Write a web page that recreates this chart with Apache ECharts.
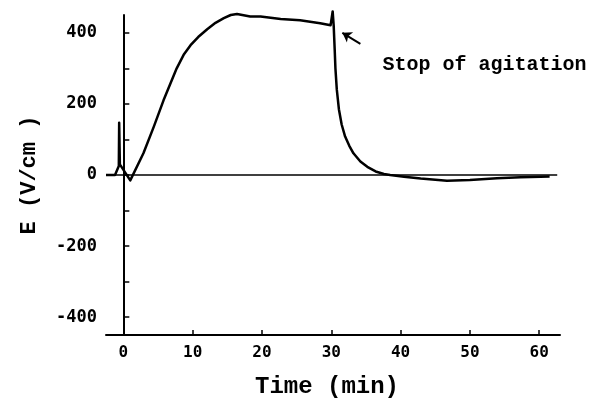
<!DOCTYPE html>
<html>
<head>
<meta charset="utf-8">
<script src="https://cdn.jsdelivr.net/npm/echarts@6/dist/echarts.min.js"></script>
<style>html,body{margin:0;padding:0;background:#fff}#c{width:596px;height:406px}</style>
</head>
<body>
<div id="c"></div>
<script>
// time (min) and field strength E (V/cm)
var timeMin = [-2.5, -1.2, -0.65, -0.6, -0.5, 1.0, 2.9, 4.4, 5.8, 7.7, 8.7, 9.7, 10.8, 12.1, 13.3, 14.5, 15.5, 16.4, 18.3, 19.8, 22.7, 25.5, 28.4, 29.9, 30.2, 30.35, 30.5, 30.6, 30.8, 31.1, 31.5, 32.0, 32.6, 33.2, 34.2, 35.2, 36.4, 37.6, 38.5, 40.5, 42.9, 46.7, 50.0, 53.9, 57.3, 60.2, 61.5];
var fieldE  = [0, 0, 25, 147, 30, -15, 61, 136, 210, 300, 338, 365, 388, 410, 428, 441, 450, 453, 446, 446, 439, 435, 427, 421, 460, 420, 350, 300, 240, 185, 142, 108, 82, 61, 38, 23, 10, 3, 0, -5, -10, -16, -14, -9, -6, -5, -4];
var baseTime = [-2.5, 62.6];
var baseE = [0, 0];
var yTicks = [-400, -300, -200, -100, 0, 100, 200, 300, 400];
var yLabels = [-400, -200, 0, 200, 400];
var xTicks = [0, 10, 20, 30, 40, 50, 60];
var annotationText = 'Stop of agitation';
var annotationAt = [37.4, 310];
var arrowFrom = [34.2, 369];
var arrowTo = [31.6, 400];

var curve = timeMin.map(function (t, i) { return [t, fieldE[i]]; });
var base = baseTime.map(function (t, i) { return [t, baseE[i]]; });

var chart = echarts.init(document.getElementById('c'), null, {renderer: 'canvas'});
chart.setOption({
  backgroundColor: '#fff',
  animation: false,
  grid: {left: 106, right: 36, top: 15, bottom: 71},
  xAxis: {
    type: 'value', min: -2.5, max: 63,
    name: 'Time (min)', nameLocation: 'middle', nameGap: 40,
    nameTextStyle: {fontFamily: 'Liberation Mono', fontWeight: 'bold', fontSize: 24, color: '#000', padding: [0, 12, 0, 0]},
    axisLine: {show: true, onZero: false, lineStyle: {color: '#000', width: 2}},
    axisTick: {show: true, inside: true, length: 5, customValues: xTicks, lineStyle: {color: '#000', width: 1.5}},
    axisLabel: {customValues: xTicks, margin: 10, fontFamily: 'DejaVu Sans Mono', fontWeight: 'bold', fontSize: 16, color: '#000'},
    splitLine: {show: false}
  },
  yAxis: {
    type: 'value', min: -450, max: 450,
    name: 'E (V/cm )', nameLocation: 'middle', nameGap: 66, nameRotate: 90,
    nameTextStyle: {fontFamily: 'Liberation Mono', fontWeight: 'bold', fontSize: 22, color: '#000'},
    axisLine: {show: true, lineStyle: {color: '#000', width: 2}},
    axisTick: {show: true, inside: true, length: 6, customValues: yTicks, lineStyle: {color: '#000', width: 1.5}},
    axisLabel: {customValues: yLabels, margin: 9, fontFamily: 'DejaVu Sans Mono', fontWeight: 'bold', fontSize: 17, color: '#000'},
    splitLine: {show: false}
  },
  series: [
    {
      type: 'line', data: base, symbol: 'none', silent: true,
      lineStyle: {color: '#000', width: 1.5}
    },
    {
      type: 'line', data: curve, symbol: 'none', silent: true, clip: false,
      smooth: false,
      lineStyle: {color: '#000', width: 2.5, join: 'round'},
      markLine: {
        silent: true, symbol: ['none', 'arrow'], symbolSize: 9,
        lineStyle: {color: '#000', width: 2, type: 'solid'},
        label: {show: false},
        data: [[{coord: arrowFrom}, {coord: arrowTo}]]
      },
      markPoint: {
        silent: true, symbol: 'circle', symbolSize: 0,
        label: {show: true, position: 'right', distance: 0, formatter: annotationText,
          fontFamily: 'Liberation Mono', fontWeight: 'bold', fontSize: 20, color: '#000'},
        data: [{coord: annotationAt}]
      }
    }
  ]
});
</script>
</body>
</html>
